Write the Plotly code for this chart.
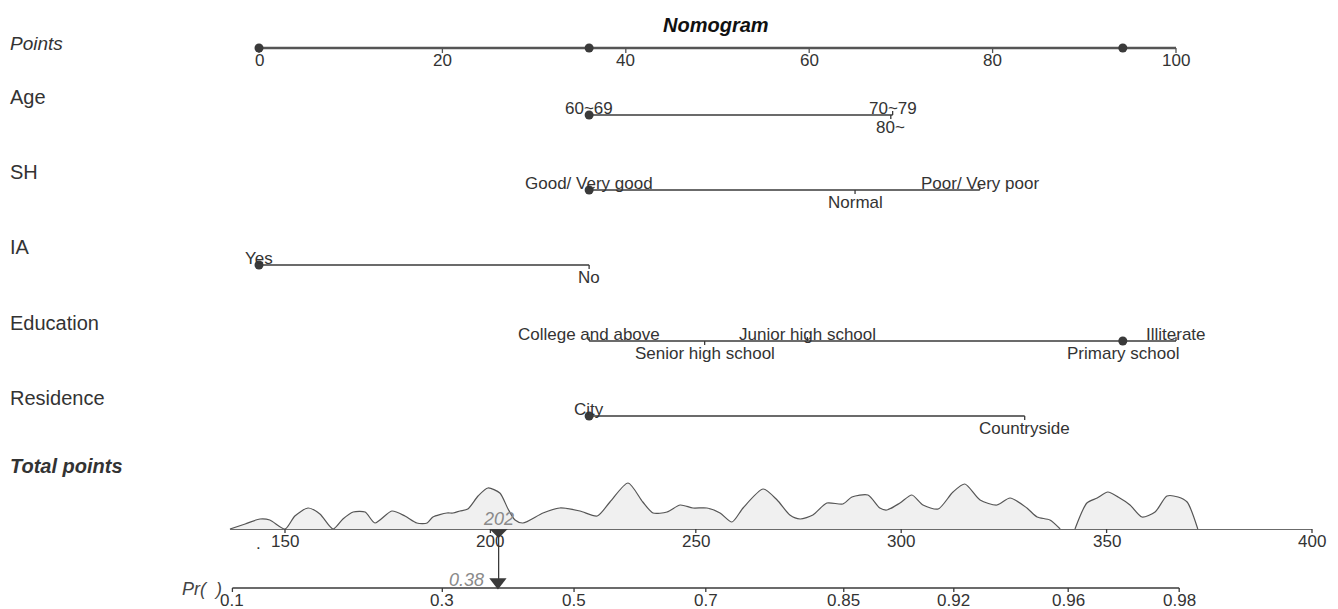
import math
import plotly.graph_objects as go

# ---------------- data ----------------
points_ticks = [0, 20, 40, 60, 80, 100]
points_obs = [0, 36, 94.2]

age_levels = ["60~69", "70~79", "80~"]
age_points = [36, 69.1, 68.9]
age_obs = "60~69"

sh_levels = ["Good/ Very good", "Normal", "Poor/ Very poor"]
sh_points = [36, 65, 78.6]
sh_obs = "Good/ Very good"

ia_levels = ["Yes", "No"]
ia_points = [0, 36]
ia_obs = "Yes"

edu_levels = ["College and above", "Senior high school", "Junior high school",
              "Primary school", "Illiterate"]
edu_points = [36, 48.6, 59.8, 94.2, 100]
edu_obs = "Primary school"

res_levels = ["City", "Countryside"]
res_points = [36, 83.5]
res_obs = "City"

total_ticks = [150, 200, 250, 300, 350, 400]
total_span = [136.6, 400]
total_obs = 202
total_stray_label = (143.5, ".")

pr_ticks = [0.1, 0.3, 0.5, 0.7, 0.85, 0.92, 0.96, 0.98]
pr_b0 = -5.822     # linear predictor intercept
pr_b1 = 0.02642    # linear predictor slope per total point
pr_obs = 0.38

# density of total points (two pieces)
dens1_tp = [136.6, 140.3, 143.9, 146.3, 150.0, 152.4, 155.6, 158.5, 161.7, 164.1,
            166.6, 169.5, 171.9, 176.0, 179.2, 182.1, 184.6, 186.0, 189.4, 190.9,
            192.6, 194.5, 197.0, 199.4, 202.3, 204.3, 206.0, 207.9, 212.8, 216.9,
            221.8, 226.0, 229.1, 233.5, 237.1, 239.6, 243.0, 246.2, 249.3, 252.7,
            255.9, 258.8, 261.5, 266.4, 269.8, 272.9, 275.4, 278.5, 281.9, 285.8,
            288.0, 291.9, 294.8, 296.5, 299.7, 302.6, 305.3, 309.0, 312.6, 315.5,
            319.2, 323.3, 326.5, 330.6, 333.1, 336.2, 338.7]
dens1_h = [0, 5, 10, 9, 0, 13, 21, 15, 0, 10,
           17, 17, 6, 18, 13, 6, 6, 12, 16, 16,
           18, 20, 33, 41, 36, 20, 9, 6, 16, 21,
           18, 13, 27, 46, 27, 16, 17, 24, 21, 21,
           16, 7, 21, 40, 29, 14, 10, 14, 26, 25,
           32, 34, 21, 19, 26, 34, 24, 20, 37, 45,
           29, 24, 31, 21, 12, 9, 0]
dens2_tp = [342.3, 345.2, 347.7, 350.3, 352.8, 355.7, 358.6, 361.8, 364.7, 367.4,
            369.6, 372.2]
dens2_h = [0, 26, 31, 37, 32, 24, 12, 17, 33, 32, 27, 0]

# ---------------- layout helpers ----------------
W, H = 1338, 609
FONT = "Liberation Sans, Arial, sans-serif"
TXT = "#333333"
LINE = "#3a3a3a"
GREY = "#8a8a8a"

ROW_Y = {"Points": 48, "Age": 115, "SH": 190, "IA": 265, "Education": 341,
         "Residence": 416, "Total": 529, "Pr": 588}
LABEL_DY = 18
TICK = 4

fig = go.Figure()


def lines(xs, ys, xaxis="x", width=1.3, color=LINE):
    fig.add_trace(go.Scatter(x=xs, y=ys, mode="lines", xaxis=xaxis, yaxis="y",
                             line=dict(color=color, width=width),
                             hoverinfo="skip", showlegend=False))


def dots(xs, ys, xaxis="x", size=9, symbol="circle", color=LINE):
    fig.add_trace(go.Scatter(x=xs, y=ys, mode="markers", xaxis=xaxis, yaxis="y",
                             marker=dict(color=color, size=size, symbol=symbol,
                                         line=dict(width=0)),
                             hoverinfo="skip", showlegend=False))


def text(t, x, y, xref="x", yshift=0, xshift=0, size=17, xanchor="center",
         color=TXT):
    fig.add_annotation(text=t, x=x, y=y, xref=xref, yref="y", showarrow=False,
                       xanchor=xanchor, yanchor="middle", yshift=yshift,
                       xshift=xshift, font=dict(family=FONT, size=size, color=color))


def row_label(t, y, size=20):
    text(t, 8 / W, y, xref="paper", xanchor="left", size=size)


def tick_segments(xs, y0, y1):
    tx, ty = [], []
    for v in xs:
        tx += [v, v, None]
        ty += [y0, y1, None]
    return tx, ty


# ---------------- Points axis ----------------
yP = ROW_Y["Points"]
lines([points_ticks[0], points_ticks[-1]], [yP, yP], width=2.6, color="#555555")
tx, ty = tick_segments(points_ticks, yP, yP + TICK + 1)
lines(tx, ty, width=1.3, color="#555555")
for v in points_ticks:
    text(str(v), v, yP, yshift=-12)
dots(points_obs, [yP] * len(points_obs))
row_label("<i>Points</i>", yP - 5, size=19)

# ---------------- variable rows ----------------
rows = [("Age", age_levels, age_points, age_obs),
        ("SH", sh_levels, sh_points, sh_obs),
        ("IA", ia_levels, ia_points, ia_obs),
        ("Education", edu_levels, edu_points, edu_obs),
        ("Residence", res_levels, res_points, res_obs)]

for name, levels, pts, obs in rows:
    y = ROW_Y[name]
    lines([min(pts), max(pts)], [y, y])
    order = sorted(range(len(pts)), key=lambda i: pts[i])
    for rank, i in enumerate(order):
        above = rank % 2 == 0
        lines([pts[i], pts[i]], [y, y - TICK if above else y + TICK])
        text(levels[i], pts[i], y, yshift=7 if above else -12)
    dots([pts[levels.index(obs)]], [y])
    row_label(name, y - LABEL_DY)

# ---------------- Total points ----------------
yT = ROW_Y["Total"]
row_label("<b><i>Total points</i></b>", 466)

for dx, dy in ((dens1_tp, dens1_h), (dens2_tp, dens2_h)):
    fig.add_trace(go.Scatter(x=dx, y=dy, xaxis="x2", yaxis="y2", mode="lines",
                             fill="tozeroy", fillcolor="#f0f0f0",
                             line=dict(color="#555555", width=1.2, shape="spline",
                                       smoothing=0.7),
                             hoverinfo="skip", showlegend=False))

lines(total_span, [yT, yT], xaxis="x2")
tx, ty = tick_segments(total_ticks, yT, yT + TICK)
lines(tx, ty, xaxis="x2")
for v in total_ticks:
    text(str(v), v, yT, xref="x2", yshift=-12)
text(total_stray_label[1], total_stray_label[0], yT, xref="x2", yshift=-14)

# ---------------- Probability axis ----------------
yR = ROW_Y["Pr"]


def prob_to_total(p):
    return (math.log(p / (1 - p)) - pr_b0) / pr_b1


pr_pos = [prob_to_total(p) for p in pr_ticks]
lines([pr_pos[0], pr_pos[-1]], [yR, yR], xaxis="x2")
tx, ty = tick_segments(pr_pos, yR, yR + TICK)
lines(tx, ty, xaxis="x2")
for p, xp in zip(pr_ticks, pr_pos):
    text(f"{p:g}", xp, yR, xref="x2", yshift=-12)
text("<i>Pr(  )</i>", 224 / W, yR, xref="paper", xanchor="right", size=18,
     yshift=-1, color="#444444")

# observation marker + arrow
lines([total_obs, total_obs], [yT, yR - 8], xaxis="x2", width=1.3)
dots([total_obs], [yT], xaxis="x2", size=14, symbol="diamond")
dots([prob_to_total(pr_obs)], [yR - 6], xaxis="x2", size=15, symbol="triangle-down")
text(f"<i>{total_obs}</i>", total_obs, yT, xref="x2", yshift=10, size=18, color=GREY)
text(f"<i>{pr_obs:.2f}</i>", prob_to_total(pr_obs), yR, xref="x2", xanchor="right",
     xshift=-12, yshift=8, size=18, color=GREY)

# ---------------- title ----------------
text("<b><i>Nomogram</i></b>", 716 / W, 25, xref="paper", size=20, color="#111111")

# ---------------- axes ----------------
px0, px_per_pt = 259, 9.17          # Points scale placement
tx0, tx_per_pt = 285, 4.108         # Total points scale placement (150 at tx0)
fig.update_layout(
    width=W, height=H, autosize=False,
    margin=dict(l=0, r=0, t=0, b=0, pad=0),
    paper_bgcolor="white", plot_bgcolor="white",
    xaxis=dict(range=[-px0 / px_per_pt, (W - px0) / px_per_pt], visible=False,
               fixedrange=True),
    xaxis2=dict(range=[150 - tx0 / tx_per_pt, 150 + (W - tx0) / tx_per_pt],
                overlaying="x", visible=False, fixedrange=True),
    yaxis=dict(range=[H, 0], visible=False, fixedrange=True),
    yaxis2=dict(domain=[(H - yT) / H, (H - yT + 60) / H], range=[0, 60],
                anchor="x2", visible=False, fixedrange=True),
    showlegend=False,
)

fig.write_html("out.html")
